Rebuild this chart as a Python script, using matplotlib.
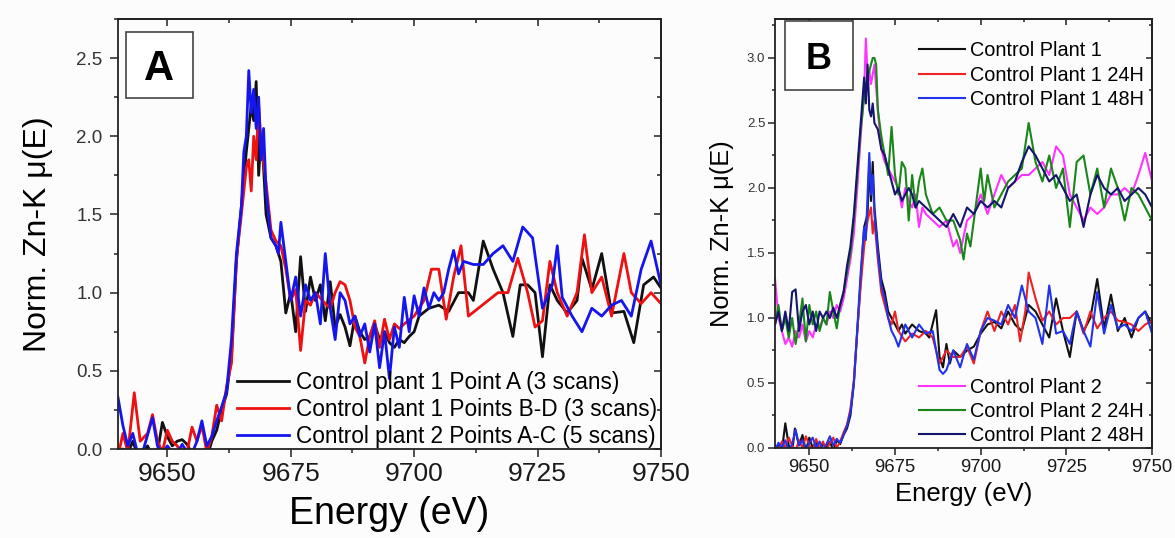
import numpy as np
import matplotlib
matplotlib.use('Agg')
import matplotlib.pyplot as plt
from matplotlib.patches import Rectangle
from matplotlib.ticker import MultipleLocator

plt.rcParams['font.family'] = ['Liberation Sans', 'DejaVu Sans']

# ---- panel A : control plants, several points (energy eV, normalised mu) ----
a_plant1_point_a = [
    (9640, -0.05), (9641, 0.0), (9642, -0.03), (9643, 0.05), (9644, -0.04), (9645, -0.02),
    (9646, 0.02), (9647, -0.05), (9648, -0.02), (9649, 0.17), (9650, 0.08), (9651, 0.02),
    (9652, 0.05), (9653, 0.06), (9654, 0.03), (9655, -0.03), (9656, -0.05), (9657, -0.04),
    (9658, -0.06), (9659, 0.05), (9660, 0.12), (9661, 0.25), (9662, 0.35), (9663, 0.6),
    (9664, 1.2), (9665, 1.55), (9666, 1.9), (9667, 2.2), (9667.5, 2.1), (9668, 2.35),
    (9668.5, 1.75), (9669, 2.0), (9669.5, 1.8), (9670, 1.5), (9671, 1.35), (9672, 1.3),
    (9673, 1.2), (9674, 0.87), (9675, 1.0), (9676, 0.75), (9677, 1.23), (9678, 0.88),
    (9679, 1.1), (9680, 0.95), (9681, 1.05), (9682, 0.82), (9683, 1.07), (9684, 0.78),
    (9685, 0.86), (9686, 0.78), (9687, 0.66), (9688, 0.85), (9689, 0.75), (9690, 0.7),
    (9691, 0.72), (9692, 0.8), (9693, 0.7), (9694, 0.75), (9695, 0.68), (9696, 0.65),
    (9697, 0.7), (9698, 0.68), (9699, 0.72), (9700, 0.75), (9701, 0.85), (9703, 0.9),
    (9705, 0.92), (9707, 0.88), (9709, 1.0), (9711, 1.0), (9712, 0.95), (9714, 1.33),
    (9716, 1.15), (9718, 1.0), (9720, 0.72), (9721.5, 1.05), (9723, 1.05), (9724.5, 1.0),
    (9726, 0.59), (9727.5, 1.05), (9729, 0.95), (9731, 0.87), (9733, 0.95), (9734, 1.22),
    (9736, 1.02), (9738, 1.25), (9740, 0.87), (9742.5, 0.88), (9744.5, 0.68), (9746.5, 1.05),
    (9748.5, 1.1), (9750, 1.03),
]
a_plant1_points_bd = [
    (9640, -0.05), (9641, 0.1), (9642, -0.02), (9643.3, 0.36), (9644.5, 0.05), (9646, 0.1),
    (9647, 0.22), (9648, 0.05), (9649, -0.02), (9650, 0.12), (9651, 0.05), (9652, 0.02),
    (9653, -0.03), (9654, -0.02), (9655, 0.14), (9656, 0.05), (9657, 0.15), (9658, -0.02),
    (9659, 0.08), (9660, 0.28), (9661, 0.18), (9662, 0.4), (9663, 0.55), (9664, 1.22),
    (9665, 1.5), (9666, 1.8), (9666.5, 1.85), (9667, 1.65), (9667.5, 2.0), (9668, 1.85),
    (9668.5, 2.2), (9669, 1.95), (9670, 1.7), (9671, 1.4), (9672, 1.33), (9673, 1.3),
    (9674, 1.15), (9675, 0.95), (9676, 1.02), (9677, 0.63), (9678, 0.95), (9679, 0.92),
    (9680, 1.0), (9682, 0.93), (9683, 0.9), (9684, 1.0), (9685, 1.07), (9686, 1.05),
    (9687, 0.95), (9688, 0.78), (9689, 0.72), (9690, 0.55), (9691, 0.72), (9692, 0.82),
    (9693, 0.65), (9694, 0.83), (9695, 0.7), (9696, 0.8), (9697, 0.77), (9698, 0.8),
    (9700, 0.85), (9702, 0.95), (9703.5, 1.15), (9705, 1.15), (9706.5, 0.83), (9708, 1.1),
    (9709.5, 1.3), (9711, 0.85), (9713, 0.9), (9715, 0.95), (9717, 1.0), (9719, 1.0),
    (9721, 1.22), (9723, 1.0), (9724.5, 0.78), (9726, 0.82), (9727.5, 1.2), (9729, 1.0),
    (9731, 0.85), (9733, 1.0), (9734.5, 1.37), (9736, 1.0), (9738, 1.1), (9740, 0.85),
    (9742.5, 1.25), (9744, 1.0), (9746, 0.93), (9748, 1.0), (9750, 0.93),
]
a_plant2_points_ac = [
    (9640, 0.33), (9641, 0.15), (9642, 0.02), (9643, 0.1), (9644, -0.03), (9645, -0.02),
    (9647, 0.2), (9648, 0.02), (9649, -0.03), (9650, 0.02), (9651, -0.02), (9652, -0.03),
    (9653, 0.03), (9654, -0.02), (9655, -0.03), (9656, 0.05), (9657, 0.18), (9658, 0.02),
    (9659, 0.08), (9660, 0.18), (9661, 0.27), (9662, 0.37), (9663, 0.7), (9664, 1.25),
    (9665, 1.55), (9665.5, 1.9), (9666, 2.0), (9666.5, 2.42), (9667, 2.15), (9667.5, 2.3),
    (9668, 2.05), (9668.5, 2.25), (9669, 1.85), (9669.5, 2.05), (9670, 1.65), (9671, 1.35),
    (9672, 1.3), (9672.5, 1.25), (9673, 1.45), (9674, 1.2), (9675, 0.95), (9676, 1.1),
    (9677, 0.85), (9678, 1.05), (9679, 0.95), (9680, 1.0), (9681, 0.8), (9682, 1.25),
    (9683, 0.9), (9684, 0.7), (9685, 1.0), (9686, 0.95), (9687, 0.8), (9688, 0.85),
    (9689, 0.72), (9690, 0.8), (9691, 0.62), (9692, 0.8), (9693, 0.52), (9694, 0.75),
    (9695, 0.45), (9696, 0.78), (9697, 0.65), (9698, 0.97), (9699, 0.75), (9700, 0.98),
    (9701, 0.85), (9702, 1.03), (9703, 0.9), (9704, 1.0), (9705, 0.95), (9706, 1.0),
    (9707, 1.15), (9708, 1.27), (9709, 1.12), (9710, 1.2), (9712, 1.18), (9714, 1.18),
    (9716, 1.25), (9718, 1.3), (9720, 1.2), (9722, 1.42), (9724, 1.35), (9726, 0.9),
    (9728, 1.05), (9729, 1.3), (9730, 0.97), (9732, 0.85), (9734, 0.75), (9736, 0.9),
    (9738, 0.85), (9740, 0.92), (9742, 0.95), (9744, 0.85), (9746, 1.15), (9748, 1.33),
    (9750, 1.05),
]
a_labels = ['Control plant 1 Point A (3 scans)',
            'Control plant 1 Points B-D (3 scans)',
            'Control plant 2 Points A-C (5 scans)']
a_colors = ['#111111', '#ee1111', '#1515ee']

# ---- panel B : control plants after 24 h / 48 h ----
b_plant1 = [
    (9640, -0.03), (9641, 0.03), (9642, -0.02), (9643, 0.19), (9644, 0.02), (9645, -0.03),
    (9645.8, 0.15), (9647, 0.02), (9648, 0.1), (9649, -0.02), (9650, 0.08), (9651, 0.0),
    (9652, 0.05), (9653, -0.03), (9654, 0.03), (9655, 0.0), (9656, 0.05), (9657, -0.02),
    (9658, 0.06), (9659, 0.03), (9660, 0.1), (9661, 0.15), (9662, 0.25), (9663, 0.5),
    (9664, 0.9), (9665, 1.3), (9666, 1.7), (9667, 1.8), (9667.5, 2.2), (9668, 1.9),
    (9668.5, 2.2), (9669, 1.85), (9670, 1.55), (9671, 1.3), (9672, 1.2), (9673, 1.05),
    (9674, 1.0), (9675, 0.95), (9676, 0.9), (9677, 0.95), (9678, 0.88), (9680, 0.95),
    (9682, 0.9), (9684, 0.88), (9685, 0.85), (9687, 1.06), (9688, 0.7), (9689, 0.62),
    (9690, 0.8), (9691, 0.65), (9692, 0.75), (9694, 0.7), (9696, 0.75), (9698, 0.78),
    (9700, 0.88), (9702, 0.95), (9704, 0.97), (9706, 0.92), (9708, 1.05), (9710, 0.95),
    (9712, 0.9), (9714, 1.1), (9716, 1.05), (9718, 0.95), (9720, 0.85), (9722, 1.15),
    (9724, 0.9), (9726, 0.7), (9728, 1.05), (9730, 0.9), (9732, 1.0), (9734, 1.3),
    (9736, 0.92), (9738, 1.18), (9740, 0.9), (9742, 1.0), (9744, 0.85), (9746, 1.0),
    (9748, 1.05), (9750, 0.95),
]
b_plant1_24h = [
    (9640, 0.02), (9641, -0.02), (9642, 0.05), (9643, 0.0), (9644, 0.08), (9645, 0.02),
    (9646, -0.02), (9647, 0.06), (9648, 0.0), (9649, 0.09), (9650, 0.02), (9651, -0.02),
    (9652, 0.07), (9653, 0.0), (9654, 0.05), (9655, -0.02), (9656, 0.04), (9657, 0.08),
    (9658, 0.0), (9659, 0.05), (9660, 0.12), (9661, 0.18), (9662, 0.3), (9663, 0.52),
    (9664, 0.9), (9665, 1.25), (9666, 1.55), (9667, 1.75), (9668, 1.85), (9668.5, 1.65),
    (9669, 1.75), (9670, 1.45), (9671, 1.2), (9672, 1.1), (9673, 1.0), (9674, 0.95),
    (9675, 1.05), (9676, 0.9), (9678, 0.82), (9680, 0.88), (9682, 0.85), (9684, 0.9),
    (9686, 0.85), (9688, 0.65), (9690, 0.75), (9692, 0.7), (9694, 0.7), (9696, 0.78),
    (9698, 0.65), (9700, 0.9), (9702, 1.05), (9704, 0.9), (9706, 1.05), (9708, 0.95),
    (9710, 1.1), (9711.5, 0.82), (9713, 1.05), (9714, 1.35), (9716, 1.15), (9718, 0.98),
    (9720, 1.05), (9722, 0.95), (9724, 1.0), (9726, 1.0), (9728, 1.05), (9730, 0.88),
    (9732, 1.05), (9734, 0.92), (9736, 1.0), (9738, 1.05), (9740, 0.98), (9742, 0.97),
    (9744, 0.95), (9746, 0.9), (9748, 0.95), (9750, 0.98),
]
b_plant1_48h = [
    (9640, -0.02), (9641, 0.04), (9642, 0.0), (9643, 0.06), (9644, -0.02), (9645, 0.03),
    (9646, 0.14), (9647, 0.02), (9648, 0.06), (9649, -0.02), (9650, 0.04), (9651, 0.08),
    (9652, 0.0), (9653, 0.05), (9654, -0.02), (9655, 0.03), (9656, 0.09), (9657, 0.02),
    (9658, 0.07), (9659, 0.04), (9660, 0.1), (9661, 0.17), (9662, 0.28), (9663, 0.5),
    (9664, 0.92), (9665, 1.35), (9666, 1.7), (9666.5, 1.6), (9667, 1.95), (9667.5, 2.27),
    (9668, 1.95), (9668.5, 2.1), (9669, 1.8), (9670, 1.5), (9671, 1.25), (9672, 1.15),
    (9673, 1.0), (9674, 0.9), (9675, 0.85), (9676, 0.78), (9678, 0.95), (9680, 0.85),
    (9682, 0.95), (9684, 0.88), (9686, 0.9), (9688, 0.6), (9689, 0.57), (9690, 0.6),
    (9692, 0.75), (9694, 0.62), (9696, 0.8), (9698, 0.68), (9700, 0.9), (9702, 1.0),
    (9704, 0.98), (9706, 0.95), (9708, 1.1), (9710, 1.0), (9712, 1.25), (9714, 1.05),
    (9716, 1.0), (9718, 0.8), (9720, 1.25), (9722, 0.88), (9724, 0.9), (9726, 0.8),
    (9728, 1.05), (9730, 0.9), (9732, 0.78), (9734, 1.2), (9736, 0.88), (9738, 1.1),
    (9740, 0.92), (9742, 0.95), (9744, 0.9), (9746, 1.0), (9748, 1.05), (9750, 0.88),
]
b_plant2 = [
    (9640, 1.3), (9641, 1.0), (9642, 0.9), (9643, 0.8), (9644, 0.85), (9645, 0.78),
    (9646, 0.9), (9647, 0.85), (9648, 0.95), (9649, 0.82), (9650, 0.9), (9651, 0.85),
    (9652, 0.95), (9653, 0.92), (9654, 1.0), (9655, 0.95), (9656, 1.05), (9657, 1.0),
    (9658, 1.1), (9659, 1.05), (9660, 1.15), (9661, 1.3), (9662, 1.45), (9663, 1.65),
    (9664, 2.0), (9665, 2.4), (9666, 2.75), (9666.5, 3.15), (9667, 2.85), (9667.5, 2.9),
    (9668, 2.8), (9669, 2.95), (9670, 2.6), (9671, 2.3), (9672, 2.2), (9673, 2.15),
    (9674, 2.1), (9675, 2.05), (9676, 2.0), (9677, 1.85), (9678, 2.0), (9679, 1.9),
    (9680, 1.85), (9681, 1.95), (9682, 1.7), (9683, 1.85), (9684, 1.8), (9686, 1.75),
    (9688, 1.7), (9690, 1.75), (9692, 1.55), (9693, 1.6), (9694, 1.5), (9696, 1.75),
    (9698, 1.8), (9700, 1.95), (9702, 1.8), (9704, 1.95), (9706, 2.1), (9708, 2.0),
    (9710, 2.05), (9712, 2.1), (9714, 2.1), (9716, 2.15), (9718, 2.2), (9720, 2.1),
    (9722, 2.32), (9724, 2.25), (9726, 1.95), (9728, 1.85), (9730, 1.75), (9732, 1.85),
    (9734, 1.8), (9736, 1.85), (9738, 1.95), (9740, 1.95), (9742, 2.0), (9744, 1.95),
    (9746, 2.1), (9748, 2.27), (9750, 2.05),
]
b_plant2_24h = [
    (9640, 0.95), (9641, 1.1), (9642, 0.9), (9643, 1.0), (9644, 0.85), (9645, 1.0),
    (9646, 0.8), (9647, 0.95), (9648, 1.15), (9649, 0.82), (9650, 1.1), (9651, 0.95),
    (9652, 1.05), (9653, 0.9), (9654, 1.0), (9655, 0.95), (9656, 1.2), (9657, 1.05),
    (9658, 0.92), (9659, 1.1), (9660, 1.2), (9661, 1.35), (9662, 1.5), (9663, 1.75),
    (9664, 2.1), (9665, 2.45), (9666, 2.7), (9667, 2.85), (9668, 2.95), (9668.5, 3.0),
    (9669, 3.0), (9669.5, 2.95), (9670, 2.6), (9671, 2.4), (9672, 2.25), (9673, 2.1),
    (9674, 2.47), (9675, 2.1), (9676, 1.95), (9677, 2.2), (9678, 2.15), (9679, 1.75),
    (9680, 2.1), (9681, 1.85), (9682, 2.05), (9683, 2.15), (9684, 1.95), (9686, 1.8),
    (9688, 1.85), (9690, 1.75), (9692, 1.75), (9694, 1.6), (9695, 1.45), (9696, 1.65),
    (9697, 1.55), (9698, 1.75), (9700, 2.15), (9701, 1.9), (9702, 2.1), (9704, 1.85),
    (9706, 1.95), (9708, 2.05), (9710, 2.1), (9712, 2.15), (9714, 2.5), (9716, 2.2),
    (9718, 2.05), (9720, 2.25), (9722, 2.0), (9724, 2.15), (9726, 1.7), (9728, 2.2),
    (9730, 2.25), (9732, 1.95), (9734, 2.15), (9736, 1.85), (9738, 2.15), (9740, 2.0),
    (9742, 1.75), (9744, 2.0), (9746, 1.95), (9748, 1.85), (9750, 1.75),
]
b_plant2_48h = [
    (9640, 0.95), (9641, 1.05), (9642, 0.9), (9643, 1.05), (9644, 0.9), (9645, 1.2),
    (9646, 1.22), (9647, 0.9), (9648, 1.05), (9649, 1.1), (9650, 0.95), (9651, 1.05),
    (9652, 0.9), (9653, 1.05), (9654, 1.0), (9655, 1.05), (9656, 1.0), (9657, 1.08),
    (9658, 1.0), (9659, 1.1), (9660, 1.2), (9661, 1.4), (9662, 1.55), (9663, 1.8),
    (9664, 2.15), (9665, 2.5), (9666, 2.85), (9666.5, 2.65), (9667, 2.95), (9667.5, 2.6),
    (9668, 2.55), (9668.5, 2.65), (9669, 2.5), (9670, 2.45), (9671, 2.3), (9672, 2.25),
    (9673, 2.15), (9674, 2.05), (9675, 1.95), (9676, 2.0), (9677, 1.9), (9678, 1.95),
    (9679, 2.0), (9680, 1.95), (9681, 1.85), (9682, 1.9), (9684, 1.85), (9686, 1.8),
    (9688, 1.75), (9690, 1.7), (9692, 1.8), (9694, 1.7), (9696, 1.85), (9698, 1.8),
    (9700, 1.9), (9702, 1.85), (9704, 1.9), (9706, 1.85), (9708, 2.0), (9710, 2.05),
    (9712, 2.2), (9714, 2.32), (9716, 2.25), (9718, 2.15), (9720, 2.05), (9722, 2.1),
    (9724, 2.0), (9726, 1.9), (9728, 1.95), (9730, 1.7), (9732, 1.95), (9734, 2.1),
    (9736, 2.0), (9738, 1.95), (9740, 2.0), (9742, 1.9), (9744, 1.95), (9746, 2.0),
    (9748, 1.95), (9750, 1.85),
]
b_labels = ['Control Plant 1', 'Control Plant 1 24H', 'Control Plant 1 48H',
            'Control Plant 2', 'Control Plant 2 24H', 'Control Plant 2 48H']
b_colors = ['#111111', '#ee2222', '#2233ee', '#ff33ff', '#1a861a', '#15156e']


def style_axes(ax, ymax, fs_x, fs_y, major_len, minor_len, pad_x, pad_y):
    ax.set_xlim(9640, 9750)
    ax.set_ylim(0, ymax)
    for s in ax.spines.values():
        s.set_linewidth(1.3)
        s.set_color('#222222')
    ax.xaxis.set_major_locator(MultipleLocator(25))
    ax.xaxis.set_minor_locator(MultipleLocator(12.5))
    ax.yaxis.set_major_locator(MultipleLocator(0.5))
    ax.yaxis.set_minor_locator(MultipleLocator(0.25))
    ax.yaxis.set_major_formatter(plt.FormatStrFormatter('%.1f'))
    ax.tick_params(which='both', direction='out', width=1.1, color='#222222',
                   top=False, right=False)
    ax.tick_params(which='major', length=major_len)
    ax.tick_params(which='minor', length=minor_len)
    ax.tick_params(axis='x', labelsize=fs_x, pad=pad_x, labelcolor='#1a1a1a')
    ax.tick_params(axis='y', labelsize=fs_y, pad=pad_y, labelcolor='#333333')
    # mirrored ticks on the top and right, pointing inward
    top = ax.secondary_xaxis('top')
    top.xaxis.set_major_locator(MultipleLocator(25))
    top.xaxis.set_minor_locator(MultipleLocator(12.5))
    top.tick_params(which='both', direction='in', labeltop=False, width=1.1, color='#222222')
    top.tick_params(which='major', length=major_len - 1)
    top.tick_params(which='minor', length=minor_len)
    right = ax.secondary_yaxis('right')
    right.yaxis.set_major_locator(MultipleLocator(0.5))
    right.yaxis.set_minor_locator(MultipleLocator(0.25))
    right.tick_params(which='both', direction='in', labelright=False, width=1.1, color='#222222')
    right.tick_params(which='major', length=major_len - 1)
    right.tick_params(which='minor', length=minor_len)
    for sec in (top, right):
        for s in sec.spines.values():
            s.set_linewidth(1.3)
            s.set_color('#222222')


def panel_tag(ax, letter, x0, y0, w, h, fs):
    ax.add_patch(Rectangle((x0, y0), w, h, transform=ax.transAxes, facecolor='white',
                           edgecolor='#444444', lw=1.2, zorder=5))
    ax.text(x0 + w / 2, y0 + h / 2, letter, transform=ax.transAxes, ha='center',
            va='center_baseline', fontsize=fs, fontweight='bold', zorder=6)


fig = plt.figure(figsize=(11.75, 5.38), dpi=100, facecolor='#fcfcfc')
ax_a = fig.add_axes([0.1004, 0.1654, 0.4621, 0.7993])
ax_b = fig.add_axes([0.6596, 0.1673, 0.3209, 0.7974])
for ax in (ax_a, ax_b):
    ax.set_facecolor('#fcfcfc')

# panel A
lines_a = []
for series, col in zip([a_plant1_point_a, a_plant1_points_bd, a_plant2_points_ac], a_colors):
    e, mu = np.array(series).T
    ln, = ax_a.plot(e, mu, color=col, lw=2.0)
    lines_a.append(ln)
style_axes(ax_a, 2.75, 19, 13.5, 6, 3, 3.5, 5)
ax_a.set_xlabel('Energy (eV)', fontsize=27, labelpad=7)
ax_a.set_ylabel('Norm. Zn-K μ(E)', fontsize=23, labelpad=17)
ax_a.legend(lines_a, a_labels, loc='lower left', bbox_to_anchor=(0.219, 0.003),
            frameon=False, fontsize=16.3, handlelength=2.3, handletextpad=0.3,
            labelspacing=0.17, borderpad=0, borderaxespad=0)
panel_tag(ax_a, 'A', 0.0147, 0.8163, 0.1234, 0.1535, 30)

# panel B
lines_b = []
for series, col in zip([b_plant1, b_plant1_24h, b_plant1_48h,
                        b_plant2, b_plant2_24h, b_plant2_48h], b_colors):
    e, mu = np.array(series).T
    ln, = ax_b.plot(e, mu, color=col, lw=1.5)
    lines_b.append(ln)
style_axes(ax_b, 3.3, 13.3, 9.5, 5, 2.5, 3, 2)
ax_b.set_xlabel('Energy (eV)', fontsize=18.5, labelpad=4)
ax_b.set_ylabel('Norm. Zn-K μ(E)', fontsize=18.3, labelpad=9)
leg_top = ax_b.legend(lines_b[:3], b_labels[:3], loc='upper left', bbox_to_anchor=(0.382, 0.948),
                      frameon=False, fontsize=14.3, handlelength=2.3, handletextpad=0.25,
                      labelspacing=0.27, borderpad=0, borderaxespad=0)
ax_b.add_artist(leg_top)
ax_b.legend(lines_b[3:], b_labels[3:], loc='lower left', bbox_to_anchor=(0.382, 0.006),
            frameon=False, fontsize=14.3, handlelength=2.3, handletextpad=0.25,
            labelspacing=0.27, borderpad=0, borderaxespad=0)
panel_tag(ax_b, 'B', 0.0265, 0.8345, 0.180, 0.161, 26)

fig.savefig('out.png', dpi=100, facecolor=fig.get_facecolor())
